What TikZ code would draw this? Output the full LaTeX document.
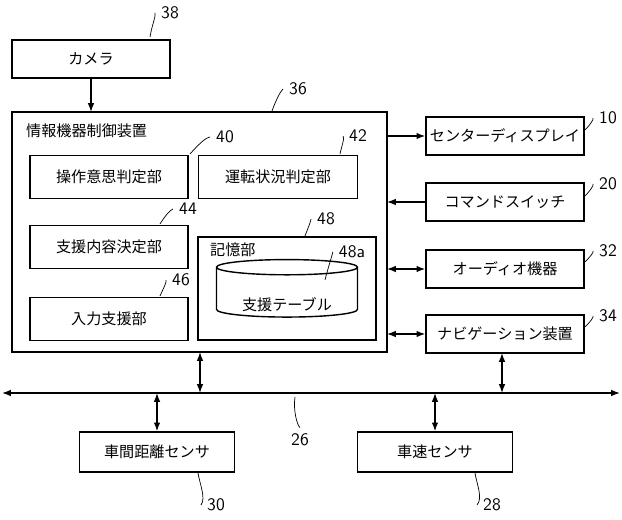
\documentclass[tikz,border=0pt]{standalone}
\usepackage{fontspec}
\newfontfamily\cjk{Noto Sans CJK JP}
\usetikzlibrary{arrows.meta}
\usetikzlibrary{shapes.geometric}
\begin{document}
\begin{tikzpicture}[x=0.02cm,y=-0.02cm,font=\cjk\fontsize{8.6}{10}\selectfont,
  blk/.style={draw,thick,minimum height=0.76cm,inner sep=0pt},
  lbl/.style={font=\sffamily\fontsize{10}{12}\selectfont},
  lead/.style={thin},
  arr/.style={thick,-{Latex[length=5pt]}},
  barr/.style={thick,{Latex[length=5pt]}-{Latex[length=5pt]}}]

\useasboundingbox (0,0) rectangle (622,520);

% outer units
\node[blk,minimum width=3.16cm] (cam) at (91,59) {カメラ};
\draw[thick] (12,112) rectangle (387,352);
\coordinate (ecuT) at (91,112);
\node[anchor=west] (ecu) at (20,131) {情報機器制御装置};

% inner units
\node[blk,minimum width=3.16cm,minimum height=0.86cm] (judge) at (109,177) {操作意思判定部};
\node[blk,minimum width=3.18cm,minimum height=0.86cm] (drive) at (278,177) {運転状況判定部};
\node[blk,minimum width=3.16cm,minimum height=0.86cm] (decide) at (109,247) {支援内容決定部};
\node[blk,minimum width=3.16cm,minimum height=0.86cm] (assist) at (109,319) {入力支援部};
\draw[thick] (198,237) rectangle (376,340);
\node[anchor=west] (mem) at (204,250) {記憶部};
\node[cylinder,shape border rotate=90,draw,thick,aspect=1.3,minimum width=2.82cm,minimum height=1.15cm] (tbl) at (287,294) {};
\node at (287,305) {支援テーブル};

% right side
\node[blk,minimum width=3.16cm] (disp) at (505,136) {センターディスプレイ};
\node[blk,minimum width=3.16cm] (sw) at (505,202) {コマンドスイッチ};
\node[blk,minimum width=3.16cm] (audio) at (505,269) {オーディオ機器};
\node[blk,minimum width=3.16cm] (navi) at (505,334) {ナビゲーション装置};
\coordinate (e1) at (387,136);
\coordinate (e2) at (387,202);
\coordinate (e3) at (387,269);
\coordinate (e4) at (387,334);
\draw[arr] (cam) -- (ecuT);
\draw[arr] (e1) -- (disp);
\draw[arr] (sw) -- (e2);
\draw[barr] (e3) -- (audio);
\draw[barr] (e4) -- (navi);

% bus
\coordinate (busL) at (2,393);
\coordinate (busR) at (620,393);
\draw[barr] (busL) -- (busR);
\node[blk,minimum width=3.1cm,minimum height=0.8cm] (gap) at (157,452) {車間距離センサ};
\node[blk,minimum width=3.1cm,minimum height=0.8cm] (spd) at (435,452) {車速センサ};
\draw[barr] (200,352) -- (200,393);
\draw[barr] (502,353) -- (502,393);
\draw[barr] (157,393) -- (gap);
\draw[barr] (435,393) -- (spd);

% reference numerals
\node[lbl] (n38) at (170,13) {38};
\draw[lead] (150,37) .. controls (152,25) and (156,16) .. (n38.west);
\node[lbl] (n36) at (298,89) {36};
\draw[lead] (272,111) .. controls (276,100) and (280,92) .. (n36.west);
\node[lbl] (n40) at (225,137) {40};
\draw[lead] (190,154) .. controls (198,145) and (205,138) .. (n40.west);
\node[lbl] (n42) at (358,136) {42};
\draw[lead] (340,154) .. controls (342,145) and (345,137) .. (n42.west);
\node[lbl] (n44) at (188,209) {44};
\draw[lead] (160,224) .. controls (165,216) and (170,210) .. (n44.west);
\node[lbl] (n46) at (181,280) {46};
\draw[lead] (160,296) .. controls (163,289) and (167,282) .. (n46.west);
\node[lbl] (n48) at (326,219) {48};
\draw[lead] (305,236) .. controls (308,228) and (311,221) .. (n48.west);
\node[lbl] (n48a) at (352,252) {48a};
\draw[lead] (325,280) .. controls (328,268) and (332,256) .. (n48a.west);
\node[lbl] (n10) at (608,118) {10};
\draw[lead] (585,130) .. controls (590,125) and (594,119) .. (n10.west);
\node[lbl] (n20) at (608,184) {20};
\draw[lead] (585,196) .. controls (590,191) and (594,185) .. (n20.west);
\node[lbl] (n32) at (608,251) {32};
\draw[lead] (585,262) .. controls (590,257) and (594,252) .. (n32.west);
\node[lbl] (n34) at (608,316) {34};
\draw[lead] (585,327) .. controls (590,322) and (594,317) .. (n34.west);
\node[lbl] (n26) at (300,440) {26};
\draw[lead] (295,397) .. controls (293,410) and (297,425) .. (n26.north);
\node[lbl] (n30) at (216,505) {30};
\draw[lead] (198,473) .. controls (200,485) and (206,498) .. (n30.west);
\node[lbl] (n28) at (492,505) {28};
\draw[lead] (475,473) .. controls (477,485) and (483,498) .. (n28.west);
\end{tikzpicture}
\end{document}
